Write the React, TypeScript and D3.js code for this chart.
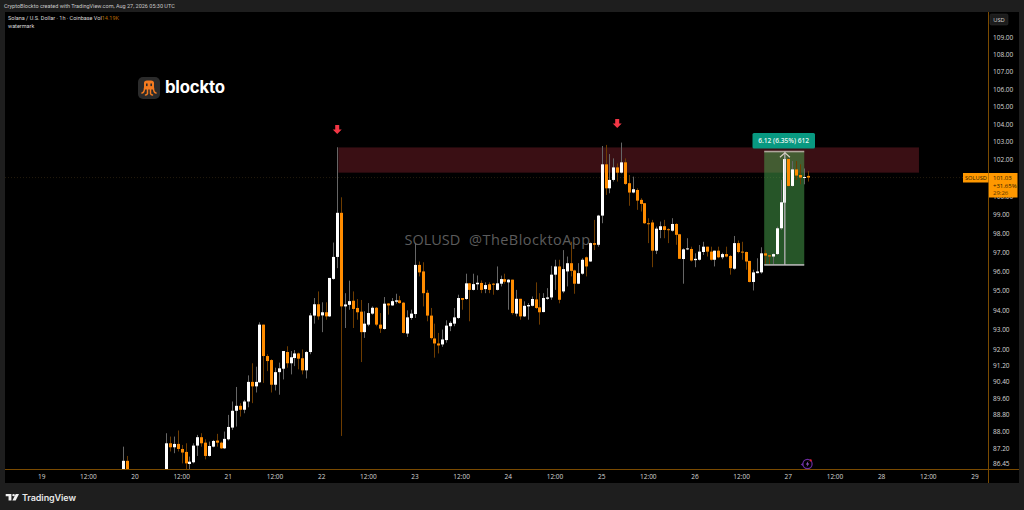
import React from "react";
import * as d3 from "d3";

type Candle = [number, number, number, number]; // open, high, low, close

// Hours are counted from day 20, 00:00.
const day19Start = -3;
const day19Tail: Candle[] = [
  [85.9, 87.27, 85.5, 86.6], [86.6, 86.83, 85.5, 85.9],
];
const day20Start = 8;
const day20: Candle[] = [
  [85.8, 87.91, 85.5, 87.43], [87.43, 87.75, 87.04, 87.24], [87.24, 87.75, 86.96, 87.4], [87.4, 88.04, 87.04, 87.16],
  [87.16, 87.35, 86.48, 86.99], [87.02, 87.43, 86.17, 86.48], [86.45, 86.8, 86.17, 86.56], [86.53, 87.43, 86.48, 87.32],
  [87.32, 87.83, 86.83, 87.72], [87.72, 87.91, 87.27, 87.43], [87.46, 87.62, 86.67, 86.83], [86.83, 87.51, 86.8, 87.3],
  [87.27, 87.59, 87.24, 87.54], [87.56, 87.88, 87.27, 87.46], [87.46, 87.51, 87.16, 87.19], [87.19, 87.99, 87.16, 87.64],
];
const day21: Candle[] = [
  [87.62, 88.79, 87.56, 88.21], [88.18, 89.44, 88.07, 88.99], [88.99, 90.15, 88.23, 89.23], [89.23, 89.36, 88.71, 89.04],
  [89.04, 89.52, 88.87, 89.44], [89.44, 90.72, 89.16, 90.4], [90.4, 91.32, 89.36, 90.18], [90.18, 91.15, 89.88, 90.4],
  [90.38, 93.38, 90.35, 93.26], [93.26, 93.26, 90.35, 91.68], [91.68, 91.77, 90.93, 91.43], [91.48, 91.52, 89.88, 90.26],
  [90.26, 91.1, 89.98, 90.88], [90.88, 91.35, 89.77, 91.07], [91.05, 91.93, 90.52, 91.93], [91.88, 92.17, 91.1, 91.32],
  [91.32, 91.93, 90.77, 91.62], [91.58, 91.98, 91.18, 91.81], [91.81, 91.85, 91.02, 91.55], [91.57, 92.01, 90.77, 90.97],
  [90.97, 91.93, 90.57, 91.88], [91.88, 93.85, 91.77, 93.73], [93.72, 94.62, 93.31, 94.3], [94.3, 94.96, 93.51, 93.68],
];
const day22: Candle[] = [
  [93.73, 94.4, 92.88, 93.89], [93.89, 94.4, 93.51, 93.68], [93.68, 95.66, 93.65, 95.66], [95.61, 97.52, 95.57, 96.76],
  [96.76, 102.71, 96.17, 99.11], [99.11, 99.95, 87.78, 94.19], [94.19, 94.87, 93.09, 94.29], [94.27, 95.52, 94.02, 94.46],
  [94.48, 94.96, 93.09, 94.06], [94.11, 94.57, 93.51, 93.89], [93.92, 94.52, 91.38, 92.88], [92.88, 93.94, 92.59, 93.31],
  [93.26, 94.36, 93.18, 93.85], [93.82, 94.19, 93.77, 94.12], [94.12, 94.16, 93.18, 93.26], [93.26, 93.85, 92.84, 93.06],
  [93.04, 94.67, 93.01, 94.33], [94.34, 94.36, 93.77, 94.24], [94.24, 94.62, 94.22, 94.46], [94.43, 94.84, 94.33, 94.5],
  [94.5, 94.73, 94.33, 94.36], [94.38, 94.41, 92.81, 92.84], [92.81, 93.99, 92.64, 93.63], [93.6, 94.02, 93.51, 93.82],
];
const day23: Candle[] = [
  [93.8, 97.49, 93.6, 96.34], [96.34, 96.52, 95.74, 95.95], [96.0, 96.48, 94.19, 94.87], [94.89, 95.04, 93.43, 93.72],
  [93.72, 94.11, 92.51, 92.58], [92.56, 93.31, 91.6, 92.31], [92.31, 92.84, 91.81, 92.21], [92.26, 93.01, 92.14, 92.51],
  [92.48, 93.48, 92.35, 93.21], [93.18, 93.43, 92.93, 93.35], [93.31, 94.11, 93.18, 93.63], [93.6, 94.79, 93.55, 94.62],
  [94.62, 94.62, 94.02, 94.53], [94.57, 95.88, 94.53, 95.38], [95.38, 95.4, 93.43, 95.04], [95.04, 95.88, 95.01, 95.34],
  [95.33, 95.79, 95.04, 95.41], [95.4, 95.53, 94.87, 95.04], [95.08, 95.43, 94.87, 95.29], [95.33, 95.43, 94.87, 95.04],
  [95.36, 95.4, 94.79, 95.31], [95.04, 96.26, 95.01, 95.38], [95.36, 95.78, 95.22, 95.6], [95.6, 95.88, 95.36, 95.46],
];
const day24: Candle[] = [
  [95.43, 95.6, 94.02, 95.57], [95.57, 95.57, 93.77, 93.85], [93.82, 95.04, 93.68, 94.58], [94.58, 94.58, 93.51, 93.68],
  [93.68, 94.45, 93.65, 94.22], [94.19, 94.36, 93.51, 94.26], [94.22, 94.7, 94.19, 94.57], [94.55, 95.43, 94.06, 94.11],
  [94.14, 94.87, 93.26, 93.89], [93.9, 94.87, 93.89, 94.62], [94.58, 95.13, 94.53, 94.65], [94.65, 96.29, 94.53, 95.83],
  [95.83, 96.61, 95.04, 96.26], [96.26, 96.61, 94.35, 94.53], [94.96, 97.12, 94.87, 96.12], [96.0, 96.78, 95.22, 96.43],
  [96.43, 97.56, 95.74, 96.03], [96.05, 96.09, 94.84, 95.36], [95.36, 96.43, 95.34, 95.91], [95.88, 96.69, 95.83, 96.61],
  [96.74, 96.78, 95.74, 96.26], [96.52, 97.52, 96.5, 97.49], [97.49, 98.73, 97.12, 97.4], [97.4, 99.0, 97.3, 98.96],
];
const day25: Candle[] = [
  [98.96, 102.78, 98.55, 101.76], [101.76, 102.84, 100.08, 100.44], [100.44, 102.33, 100.17, 100.9], [100.9, 102.09, 100.81, 101.59],
  [101.59, 101.81, 100.81, 101.3], [101.3, 102.97, 101.26, 101.87], [101.87, 102.09, 100.63, 100.68], [100.72, 101.17, 99.49, 100.21],
  [100.21, 101.08, 100.17, 100.39], [100.35, 100.44, 99.27, 99.77], [99.81, 99.9, 99.18, 99.59], [99.63, 99.63, 98.51, 98.55],
  [98.55, 98.82, 97.49, 98.51], [98.59, 98.73, 96.22, 97.09], [97.09, 98.37, 96.91, 98.26], [98.19, 98.64, 97.75, 98.39],
  [98.39, 98.73, 97.75, 98.19], [98.23, 98.28, 97.49, 98.19], [98.15, 98.82, 98.1, 98.51], [98.51, 98.55, 97.4, 97.93],
  [97.96, 97.98, 96.65, 96.66], [96.65, 97.21, 95.36, 97.16], [97.16, 97.75, 97.12, 97.21], [97.18, 97.3, 96.52, 96.57],
];
const day26: Candle[] = [
  [96.59, 96.95, 96.22, 96.66], [96.61, 97.39, 96.57, 97.04], [97.02, 97.56, 96.86, 97.3], [97.3, 97.3, 96.78, 97.04],
  [97.04, 97.3, 96.57, 96.61], [96.61, 97.09, 96.26, 97.09], [97.09, 97.3, 96.69, 96.74], [96.74, 96.98, 96.64, 96.91],
  [96.91, 97.3, 96.74, 96.78], [96.81, 96.86, 95.83, 96.17], [96.14, 97.87, 96.09, 97.49], [97.49, 97.63, 96.95, 97.02],
  [97.04, 97.56, 96.61, 97.02], [97.02, 97.04, 96.09, 96.52], [96.55, 96.55, 95.43, 95.45], [95.45, 96.09, 95.01, 95.95],
  [95.91, 96.69, 95.9, 96.0], [95.95, 97.27, 95.88, 96.95], [96.95, 97.12, 96.34, 96.83], [96.84, 96.86, 96.34, 96.81],
  [96.78, 96.95, 96.34, 96.91], [96.91, 98.37, 96.86, 98.28], [98.28, 100.9, 98.19, 99.68], [99.66, 102.37, 96.34, 102.05],
];
const day27: Candle[] = [
  [102.05, 102.09, 100.53, 100.57], [100.57, 101.94, 100.53, 101.48], [101.48, 101.94, 100.9, 101.14], [101.17, 101.76, 100.66, 101.03],
  [101.03, 101.53, 100.66, 101.06], [101.12, 101.39, 100.81, 101.03],
];

const priceTicks = [109, 108, 107, 106, 105, 104, 103, 102, 101, 100, 99, 98, 97, 96, 95, 94, 93, 92, 91.2, 90.4, 89.6, 88.8, 88, 87.2, 86.45];
const dayTicks = [19, 20, 21, 22, 23, 24, 25, 26, 27, 28, 29];

const zoneTop = 102.7;
const zoneBottom = 101.3;
const zoneStartHour = 52.3;
const zoneEndHour = 201.6;
const measureTop = 102.46;
const measureBottom = 96.34;
const measureStartHour = 161.8;
const measureEndHour = 172.1;
const measureArrowHour = 167;
const lastPrice = 101.03;
const resistanceHours = [52, 124];
const resistancePrices = [103.96, 104.3];

const UP = "#ffffff";
const DOWN = "#ff8c00";
const FONT = "'Open Sans', 'DejaVu Sans', sans-serif";

const x = d3.scaleLinear().domain([0, 24]).range([135, 228.33]);
const y = d3.scaleLog().domain([109, 86.45]).range([38, 464]);

const series: [number, Candle[]][] = [
  [day19Start, day19Tail], [day20Start, day20], [24, day21], [48, day22], [72, day23], [96, day24], [120, day25], [144, day26], [168, day27],
];
const candles = series.flatMap(([start, rows]) => rows.map((c, k) => ({ h: start + k, o: c[0], hi: c[1], lo: c[2], c: c[3] })));

export default function App() {
  const bodyW = 3;
  return (
    <svg width={1024} height={510} style={{ position: "absolute", left: 0, top: 0, background: "#1e1e1e", fontFamily: FONT }}>
      <defs>
        <clipPath id="plot"><rect x={5} y={12} width={983.5} height={457.5} /></clipPath>
      </defs>
      <rect x={5} y={12} width={1014} height={471} fill="#000" />
      <g style={{ fontFamily: "Roboto, sans-serif" }} fontSize={5.5}>
        <text x={4} y={7.8} fill="#c8c8c8">CryptoBlockto created with TradingView.com, Aug 27, 2026 05:30 UTC</text>
        <text x={8} y={20.3} fill="#d8d8d8">Solana / U.S. Dollar · 1h · Coinbase  Vol<tspan fill="#b86a00">14.19K</tspan></text>
        <text x={8} y={27.8} fill="#d8d8d8">watermark</text>
      </g>

      <g clipPath="url(#plot)">
        <rect x={x(zoneStartHour)} width={x(zoneEndHour) - x(zoneStartHour)} y={y(zoneTop)} height={y(zoneBottom) - y(zoneTop)} fill="#3a0f14" />
        <line x1={5} x2={988} y1={y(lastPrice)} y2={y(lastPrice)} stroke="#2c2210" strokeWidth={0.8} strokeDasharray="1 2" />
        <rect x={x(measureStartHour)} width={x(measureEndHour) - x(measureStartHour)} y={y(measureTop)} height={y(measureBottom) - y(measureTop)} fill="rgb(75,170,80)" fillOpacity={0.5} />
        <text x={404.5} y={245} fontSize={14.5} fill="#5c5c5c">SOLUSD</text>
        <text x={469} y={245} fontSize={14.5} fill="#5c5c5c" textLength={121}>@TheBlocktoApp</text>
        {candles.map((d) => {
          const up = d.c >= d.o;
          const cx = Math.round(x(d.h)) + 0.5;
          const top = y(Math.max(d.o, d.c));
          const bot = y(Math.min(d.o, d.c));
          return (
            <g key={d.h}>
              <line x1={cx} x2={cx} y1={y(d.hi)} y2={y(d.lo)} stroke={up ? "#666" : "#6e3c00"} strokeWidth={1} />
              <rect x={cx - bodyW / 2} width={bodyW} y={top} height={Math.max(bot - top, 1)} fill={up ? UP : DOWN} />
            </g>
          );
        })}
        <rect x={x(measureStartHour)} width={x(measureEndHour) - x(measureStartHour)} y={y(measureTop) - 1} height={1.6} fill="#b0a69c" />
        <rect x={x(measureStartHour)} width={x(measureEndHour) - x(measureStartHour)} y={y(measureBottom) - 0.8} height={1.6} fill="#b5b5b5" />
        <line x1={x(measureArrowHour) + 0.5} x2={x(measureArrowHour) + 0.5} y1={y(measureTop)} y2={y(measureBottom)} stroke="#c8c8c8" strokeWidth={1} />
        <path d={`M${x(measureArrowHour) - 4.5} ${y(measureTop) + 5.5} L${x(measureArrowHour) + 0.5} ${y(measureTop) + 1} L${x(measureArrowHour) + 5.5} ${y(measureTop) + 5.5}`} fill="none" stroke="#d8cfc4" strokeWidth={1.1} />
        {resistanceHours.map((h, k) => {
          const ax = x(h);
          const ay = y(resistancePrices[k]);
          return <path key={h} fill="#f23645" d={`M${ax - 2} ${ay} h4 v4.5 h2.5 l-4.5 4.5 l-4.5 -4.5 h2.5 z`} />;
        })}
      </g>

      <rect x={752.5} y={133} width={62.5} height={15.5} rx={1.5} fill="#089981" />
      <text x={783.7} y={143.3} fontSize={6.6} fontWeight={600} fill="#e8f5f2" textAnchor="middle">6.12 (6.35%) 612</text>

      <g transform="translate(138 77)">
        <rect width={22} height={22} rx={5} fill="#2b2b2b" />
        <path d="M6 6 Q6 3.5 9 3.5 h4 Q16 3.5 16 6 V12.5 H6 Z" fill="#f47b20" />
        <path d="M6.5 11 Q6.5 15.5 4 16 M9.5 12 V16.5 Q9 18 7.5 18 M12.5 12 V16.5 Q13 18 14.5 18 M15.5 11 Q15.5 15.5 18 16" fill="none" stroke="#f47b20" strokeWidth={1.5} strokeLinecap="round" />
        <rect x={8} y={6.5} width={1.6} height={2.6} fill="#2b2b2b" />
        <rect x={12.4} y={6.5} width={1.6} height={2.6} fill="#2b2b2b" />
      </g>
      <text x={165} y={93.3} fontSize={16.8} fontWeight={700} fill="#fff" textLength={60} style={{ fontFamily: "Inter, sans-serif" }}>blockto</text>

      <line x1={5} x2={1019} y1={469.5} y2={469.5} stroke="#7a4a00" strokeWidth={1} />
      <line x1={988.5} x2={988.5} y1={12} y2={483} stroke="#7a4a00" strokeWidth={1} />

      {priceTicks.map((p) => (
        <text key={p} x={993} y={y(p) + 2.4} fontSize={6.5} fill="#d6d6d6">{p.toFixed(2)}</text>
      ))}
      {dayTicks.map((d) => (
        <text key={d} x={x((d - 20) * 24)} y={479} fontSize={6.5} fill="#d6d6d6" textAnchor="middle">{d}</text>
      ))}
      {dayTicks.slice(0, -1).map((d) => (
        <text key={d} x={x((d - 20) * 24 + 12)} y={479} fontSize={6.5} fill="#d6d6d6" textAnchor="middle">12:00</text>
      ))}

      <rect x={990} y={14} width={18} height={11} rx={1.5} fill="#1c1c1c" stroke="#333" strokeWidth={0.5} />
      <text x={999} y={21.8} fontSize={5.8} fill="#d6d6d6" textAnchor="middle">USD</text>

      <rect x={963} y={173} width={25.5} height={9.5} fill="#ff9800" />
      <text x={965} y={180.2} fontSize={5.7} fill="#2a1a00">SOLUSD</text>
      <rect x={989} y={173} width={28.5} height={24.5} fill="#ff9800" />
      <text x={993} y={180} fontSize={6} fill="#2a1a00">101.03</text>
      <text x={993} y={187.6} fontSize={6} fill="#2a1a00">+31.65%</text>
      <text x={993} y={195} fontSize={6} fill="#5a3600">29:26</text>

      <g transform="translate(807.5 464)">
        <circle r={4.6} fill="none" stroke="#6a2ca0" strokeWidth={1.2} />
        <path d="M0.8 -3 L-1.6 0.6 H0 L-0.8 3 L1.8 -0.6 H0.2 Z" fill="#9c5ad0" />
        <circle cx={3.2} cy={-3.6} r={1.1} fill="#e02030" />
        <path d="M-6.8 0.5 L-4.5 -1 V2 Z" fill="#6a2ca0" />
      </g>

      <g transform="translate(5.7 494) scale(0.95 0.76)" fill="#f0f0f0">
        <path d="M0 0 H6 V8.5 H3 V3 H0 Z" />
        <circle cx={8.3} cy={1.5} r={1.4} />
        <path d="M10.5 0 H14 L10.5 8.5 H7 Z" />
      </g>
      <text x={22} y={500.6} fontSize={9} fontWeight={600} fill="#e8e8e8" textLength={54} style={{ fontFamily: "Inter, sans-serif" }}>TradingView</text>
    </svg>
  );
}
